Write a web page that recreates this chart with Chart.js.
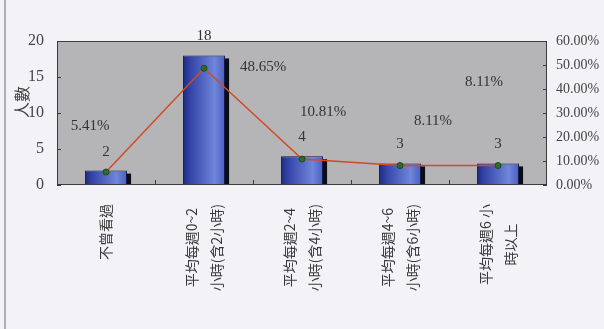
<!DOCTYPE html>
<html>
<head>
<meta charset="utf-8">
<script src="https://cdn.jsdelivr.net/npm/chart.js@4/dist/chart.umd.min.js"></script>
<style>
    html, body { margin: 0; padding: 0; background: #f3f2f6; }
    #wrap { width: 604px; height: 329px; }
</style>
</head>
<body>
<div id="wrap"><canvas id="hoursChart" width="604" height="329"></canvas></div>
<script>
// viewing hours per week: head count and share
const categories = [
    ['不曾看過'],
    ['平均每週0~2', '小時(含2小時)'],
    ['平均每週2~4', '小時(含4小時)'],
    ['平均每週4~6', '小時(含6小時)'],
    ['平均每週6 小', '時以上']
];
const headCounts = [2, 18, 4, 3, 3];
const shares = [5.41, 48.65, 10.81, 8.11, 8.11];
const countTicks = [0, 5, 10, 15, 20];
const shareTicks = [0, 10, 20, 30, 40, 50, 60];

const serif = '"Liberation Serif", "DejaVu Serif", serif';
const cjk = '"Noto Sans CJK TC", "Noto Sans CJK SC", sans-serif';
const barRatio = 0.43;

// where each percentage label sits relative to its point
const shareLabelShift = [[-16, -46], [59, -1], [21, -47], [33, -44], [-14, -83]];

function barFill(c) {
    const chart = c.chart;
    const x = chart.scales.x;
    if (!x || !chart.chartArea) return '#4a5cc0';
    const cx = x.getPixelForValue(c.dataIndex);
    const w = x.width / categories.length * barRatio;
    const g = chart.ctx.createLinearGradient(cx - w / 2, 0, cx + w / 2, 0);
    g.addColorStop(0, '#1f2a80');
    g.addColorStop(0.18, '#3444a8');
    g.addColorStop(0.75, '#6f86da');
    g.addColorStop(1, '#4a5fbe');
    return g;
}

const frame = {
    id: 'frame',
    beforeDatasetsDraw(chart) {
        const { ctx, chartArea: a } = chart;
        ctx.save();
        ctx.fillStyle = '#b5b5b7';
        ctx.fillRect(a.left, a.top, a.right - a.left, a.bottom - a.top);
        // bar shadows
        ctx.fillStyle = '#0c0c14';
        chart.getDatasetMeta(1).data.forEach(bar => {
            const half = bar.width / 2;
            ctx.fillRect(bar.x + half - 1, bar.y + 3, 5, bar.base - bar.y - 3);
        });
        ctx.restore();
    },
    afterDraw(chart) {
        const { ctx, chartArea: a, scales } = chart;
        ctx.save();
        // page rule on the left
        ctx.strokeStyle = '#9a9a9e';
        ctx.lineWidth = 1.5;
        ctx.beginPath();
        ctx.moveTo(5, 0);
        ctx.lineTo(5, chart.height);
        ctx.stroke();

        // plot border and inward tick marks
        ctx.strokeStyle = '#3a3a3a';
        ctx.lineWidth = 1;
        ctx.strokeRect(a.left + 0.5, a.top + 0.5, a.right - a.left - 1, a.bottom - a.top - 1);
        ctx.beginPath();
        countTicks.forEach(v => {
            const y = Math.round(scales.y.getPixelForValue(v)) + 0.5;
            ctx.moveTo(a.left, y);
            ctx.lineTo(a.left + 4, y);
        });
        shareTicks.forEach(v => {
            const y = Math.round(scales.y2.getPixelForValue(v)) + 0.5;
            ctx.moveTo(a.right, y);
            ctx.lineTo(a.right - 4, y);
        });
        const step = scales.x.width / categories.length;
        for (let i = 1; i < categories.length; i++) {
            const x = Math.round(scales.x.getPixelForValue(i) - step / 2) + 0.5;
            ctx.moveTo(x, a.bottom);
            ctx.lineTo(x, a.bottom - 5);
        }
        ctx.stroke();

        // value labels
        ctx.fillStyle = '#333';
        ctx.font = '15px ' + serif;
        ctx.textAlign = 'center';
        ctx.textBaseline = 'middle';
        chart.getDatasetMeta(1).data.forEach((bar, i) => {
            ctx.fillText(String(headCounts[i]), bar.x, bar.y - 19);
        });
        chart.getDatasetMeta(0).data.forEach((pt, i) => {
            const [dx, dy] = shareLabelShift[i];
            ctx.fillText(shares[i].toFixed(2) + '%', pt.x + dx, pt.y + dy);
        });

        // category labels, read bottom to top
        ctx.font = '14px ' + cjk;
        ctx.fillStyle = '#3a3a3a';
        categories.forEach((lines, i) => {
            const cx = scales.x.getPixelForValue(i);
            const longest = Math.max(...lines.map(s => ctx.measureText(s).width));
            const top = a.bottom + 19;
            ctx.save();
            ctx.translate(cx, top + longest / 2);
            ctx.rotate(-Math.PI / 2);
            lines.forEach((s, j) => {
                ctx.fillText(s, 0, (j - (lines.length - 1) / 2) * 25);
            });
            ctx.restore();
        });

        // axis title
        ctx.font = '16px ' + cjk;
        ctx.fillStyle = '#444';
        ctx.save();
        ctx.translate(a.left - 35, 102);
        ctx.rotate(-Math.PI / 2);
        ctx.fillText('人數', 0, 0);
        ctx.restore();
        ctx.restore();
    }
};

const ctx = document.getElementById('hoursChart').getContext('2d');
const hoursChart = new Chart(ctx, {
    data: {
        labels: categories,
        datasets: [{
            type: 'line',
            label: '百分比',
            data: shares,
            yAxisID: 'y2',
            borderColor: '#d24a26',
            borderWidth: 1.5,
            pointRadius: 3,
            pointBackgroundColor: '#2f6d27',
            pointBorderColor: '#1d4a18',
            pointBorderWidth: 1,
            tension: 0,
            order: 0
        }, {
            type: 'bar',
            label: '人數',
            data: headCounts,
            yAxisID: 'y',
            backgroundColor: barFill,
            borderColor: '#14184a',
            borderWidth: 1,
            borderSkipped: false,
            barPercentage: barRatio,
            categoryPercentage: 1,
            order: 1
        }]
    },
    options: {
        responsive: false,
        animation: false,
        layout: { padding: { top: 41, left: 0, right: 0, bottom: 0 } },
        plugins: {
            legend: { display: false },
            tooltip: { enabled: false }
        },
        scales: {
            x: {
                offset: true,
                grid: { display: false },
                border: { display: false },
                ticks: { display: false },
                afterFit(scale) { scale.height = 144; }
            },
            y: {
                position: 'left',
                min: 0,
                max: 20,
                afterBuildTicks(scale) { scale.ticks = countTicks.map(v => ({ value: v })); },
                grid: { display: false },
                border: { display: false },
                ticks: {
                    color: '#444',
                    font: { family: serif, size: 16 },
                    padding: 5
                },
                afterFit(scale) { scale.width = 57; }
            },
            y2: {
                position: 'right',
                min: 0,
                max: 60,
                afterBuildTicks(scale) { scale.ticks = shareTicks.map(v => ({ value: v })); },
                grid: { display: false },
                border: { display: false },
                ticks: {
                    color: '#444',
                    font: { family: serif, size: 14 },
                    padding: 1,
                    callback: v => v.toFixed(2) + '%'
                },
                afterFit(scale) { scale.width = 57; }
            }
        }
    },
    plugins: [frame]
});
</script>
</body>
</html>
